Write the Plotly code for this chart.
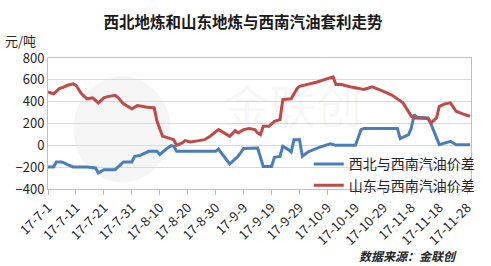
import plotly.graph_objects as go

# 山东与西南汽油价差 (red)
sd_dates = ["2017-07-01","2017-07-03","2017-07-05","2017-07-06","2017-07-08","2017-07-10","2017-07-11",
            "2017-07-13","2017-07-15","2017-07-17","2017-07-19","2017-07-21","2017-07-22","2017-07-25",
            "2017-07-26","2017-07-28","2017-07-31","2017-08-02","2017-08-05","2017-08-08","2017-08-09",
            "2017-08-11","2017-08-13","2017-08-15","2017-08-16","2017-08-18","2017-08-19","2017-08-21",
            "2017-08-24","2017-08-26","2017-08-28","2017-08-31","2017-09-02","2017-09-04","2017-09-06",
            "2017-09-07","2017-09-09","2017-09-11","2017-09-13","2017-09-14","2017-09-15","2017-09-16",
            "2017-09-18","2017-09-20","2017-09-22","2017-09-23","2017-09-26","2017-09-28","2017-09-29",
            "2017-10-05","2017-10-11","2017-10-12","2017-10-14","2017-10-17","2017-10-22","2017-10-25",
            "2017-10-29","2017-11-01","2017-11-05","2017-11-08","2017-11-09","2017-11-14","2017-11-15",
            "2017-11-17","2017-11-18","2017-11-20","2017-11-22","2017-11-24","2017-11-27","2017-11-29"]
sd_vals = [490,472,520,527,550,563,550,
           472,426,435,389,435,444,459,
           440,380,334,364,352,343,220,
           83,68,52,0,22,43,31,
           43,52,83,144,114,83,135,
           114,144,153,144,114,98,174,
           174,220,236,419,426,517,541,
           578,627,557,557,536,511,536,
           495,460,389,266,251,245,205,
           251,358,380,389,312,282,266]

# 西北与西南汽油价差 (blue)
xb_dates = ["2017-07-01","2017-07-03","2017-07-04","2017-07-06","2017-07-08","2017-07-10","2017-07-15",
            "2017-07-18","2017-07-19","2017-07-21","2017-07-25","2017-07-28","2017-07-31","2017-08-01",
            "2017-08-03","2017-08-06","2017-08-09","2017-08-10","2017-08-12","2017-08-14","2017-08-15",
            "2017-08-16","2017-08-30","2017-08-31","2017-09-01","2017-09-04","2017-09-07","2017-09-09",
            "2017-09-14","2017-09-16","2017-09-19","2017-09-20","2017-09-22","2017-09-23","2017-09-25",
            "2017-09-26","2017-09-27","2017-09-29","2017-09-30","2017-10-02","2017-10-06","2017-10-10",
            "2017-10-12","2017-10-19","2017-10-21","2017-10-22","2017-11-03","2017-11-04","2017-11-07",
            "2017-11-08","2017-11-09","2017-11-10","2017-11-14","2017-11-15","2017-11-18","2017-11-20",
            "2017-11-22","2017-11-24","2017-11-29"]
xb_vals = [-198,-198,-152,-152,-177,-198,-198,
           -207,-253,-223,-223,-152,-152,-101,
           -92,-55,-55,-85,-39,-3,-9,
           -55,-55,-33,-70,-171,-101,-28,
           -25,-193,-193,-110,-101,-9,-39,
           -61,52,52,-101,-61,-18,13,
           0,0,144,155,155,61,98,
           160,282,257,251,196,6,22,
           37,6,6]

tick_dates = ["2017-07-01","2017-07-11","2017-07-21","2017-07-31","2017-08-10","2017-08-20",
              "2017-08-30","2017-09-09","2017-09-19","2017-09-29","2017-10-09","2017-10-19",
              "2017-10-29","2017-11-08","2017-11-18","2017-11-28"]
tick_text = ["17-7-1","17-7-11","17-7-21","17-7-31","17-8-10","17-8-20","17-8-30","17-9-9",
             "17-9-19","17-9-29","17-10-9","17-10-19","17-10-29","17-11-8","17-11-18","17-11-28"]
y_ticks = [-400, -200, 0, 200, 400, 600, 800]

FONT = "Noto Sans CJK SC"

fig = go.Figure()
fig.add_trace(go.Scatter(x=xb_dates, y=xb_vals, mode="lines", name="西北与西南汽油价差",
                         line=dict(color="#4A7EBB", width=3)))
fig.add_trace(go.Scatter(x=sd_dates, y=sd_vals, mode="lines", name="山东与西南汽油价差",
                         line=dict(color="#BE4B48", width=3)))

# faint watermark
fig.add_annotation(text="金联创", xref="paper", yref="paper", x=0.58, y=0.66, showarrow=False,
                   font=dict(family=FONT, size=46, color="rgba(0,0,0,0.05)"))
fig.add_shape(type="circle", xref="paper", yref="paper", x0=0.06, x1=0.29, y0=0.05, y1=0.86,
              line=dict(width=0), fillcolor="rgba(0,0,0,0.04)", layer="below")

fig.add_annotation(text="元/吨", xref="paper", yref="paper", x=-0.107, y=1.135, xanchor="left",
                   yanchor="middle", showarrow=False, font=dict(family=FONT, size=13, color="#262626"))
fig.add_annotation(text="<i><b>数据来源：金联创</b></i>", xref="paper", yref="paper", x=0.73,
                   y=-0.505, xanchor="left", yanchor="middle", showarrow=False,
                   font=dict(family=FONT, size=12, color="#262626"))

fig.update_layout(
    width=491, height=266,
    margin=dict(l=48, r=19, t=58, b=77),
    paper_bgcolor="white", plot_bgcolor="white",
    title=dict(text="<b>西北地炼和山东地炼与西南汽油套利走势</b>", x=0.495, xanchor="center",
               y=0.915, yanchor="middle", font=dict(family=FONT, size=15.5, color="#1a1a1a")),
    font=dict(family=FONT, size=13, color="#262626"),
    legend=dict(x=0.615, y=0.31, xanchor="left", yanchor="top", bgcolor="rgba(0,0,0,0)",
                font=dict(family=FONT, size=14, color="#262626"), itemwidth=30,
                tracegroupgap=0),
    showlegend=True,
    xaxis=dict(type="date", range=["2017-07-01", "2017-11-29 08:00"], tickvals=tick_dates,
               ticktext=tick_text, tickangle=-45, showgrid=False, showline=True,
               linecolor="#bfbfbf", linewidth=1, mirror=True, ticks="outside", ticklen=5,
               tickcolor="#bfbfbf", tickfont=dict(family=FONT, size=13, color="#262626"),
               zeroline=False),
    yaxis=dict(range=[-400, 800], tickvals=y_ticks, showgrid=True, gridcolor="#d9d9d9",
               gridwidth=1, showline=True, linecolor="#bfbfbf", linewidth=1, mirror=True,
               zeroline=False, ticks="", tickfont=dict(family=FONT, size=13, color="#262626")),
)
fig.write_html("out.html")
